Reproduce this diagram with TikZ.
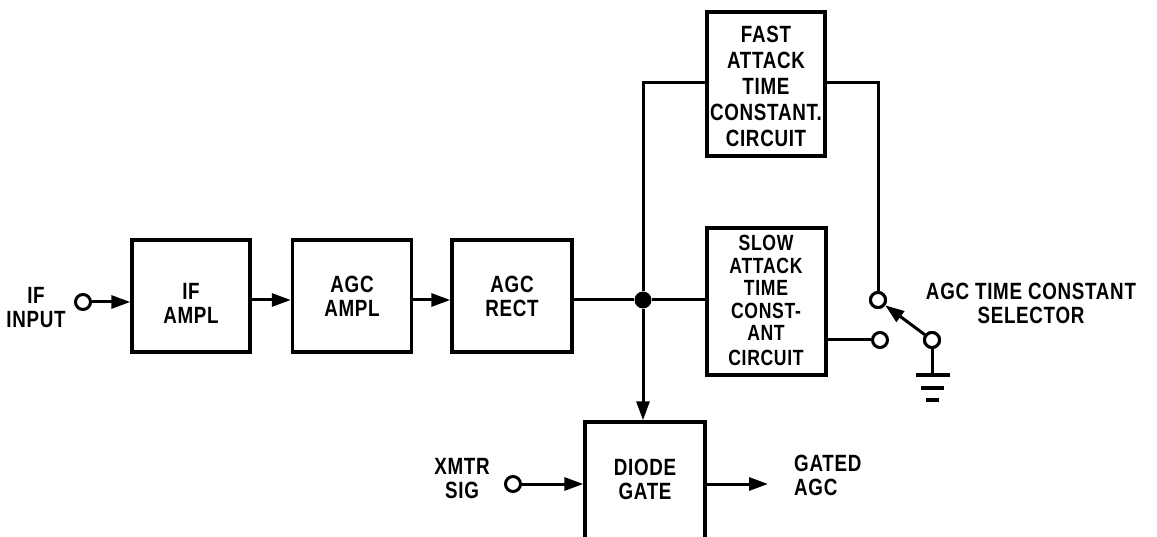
\documentclass[tikz,border=0pt]{standalone}
\usepackage{fontspec}
\newfontfamily\lab[FakeStretch=0.8,LetterSpace=3]{Liberation Sans}
\usetikzlibrary{arrows.meta}
\begin{document}
\begin{tikzpicture}[x=1pt,y=-1pt,
  blk/.style={draw,line width=3.4pt,rectangle,inner sep=0pt},
  txt/.style={align=center,inner sep=0pt,font=\lab\bfseries\fontsize{23.5}{24}\selectfont},
  wire/.style={line width=3pt},
  arr/.style={wire,-{Triangle[length=19pt,width=13pt]}},
  term/.style={circle,draw,line width=3pt,fill=white,minimum size=15pt,inner sep=0pt},
  dot/.style={circle,fill=black,minimum size=17pt,inner sep=0pt}]
\useasboundingbox (0,0) rectangle (1157,537);
% boxes
\node[blk,minimum width=118pt,minimum height=112pt] (ifa) at (191,296) {};
\node[txt] (ifat) at (191,303) {IF\\AMPL};
\node[blk,minimum width=119pt,minimum height=112pt] (agca) at (352,296) {};
\node[txt] (agcat) at (352,296) {AGC\\AMPL};
\node[blk,minimum width=120pt,minimum height=112pt] (agcr) at (512,296) {};
\node[txt] (agcrt) at (512,296) {AGC\\RECT};
\node[blk,minimum width=118pt,minimum height=144pt] (fast) at (766,84) {};
\node[txt,font=\lab\bfseries\fontsize{23.5}{26}\selectfont] (fastt) at (766,86) {FAST\\ATTACK\\TIME\\CONSTANT.\\CIRCUIT};
\node[blk,minimum width=119pt,minimum height=147pt] (slow) at (766.5,301.5) {};
\node[txt,font=\lab\bfseries\fontsize{22}{22}\selectfont] (slowt) at (766,300) {SLOW\\[1pt]ATTACK\\TIME\\[1pt]CONST-\\ANT\\[3pt]CIRCUIT};
\node[blk,minimum width=120pt,minimum height=140pt] (dg) at (645,492) {};
\node[txt] (dgt) at (645,479) {DIODE\\GATE};
% labels
\node[txt] (ifin) at (36,308) {IF\\INPUT};
\node[txt] (xm) at (462,479) {XMTR\\SIG};
\node[txt,align=left,anchor=west] (gated) at (794,475) {GATED\\AGC};
\node[txt] (sel) at (1031,303) {AGC TIME CONSTANT\\SELECTOR};
% terminals
\node[term] (tin) at (83,302) {};
\node[term] (txm) at (513,484) {};
\node[term] (sw1) at (878,300) {};
\node[term] (sw2) at (880,340) {};
\node[term] (piv) at (932,340) {};
\node[dot] (j) at (643,300) {};
\coordinate (out) at (768,484);
\coordinate (ftl) at (643,83);
\coordinate (ftr) at (878,83);
\coordinate (g) at (932,375);
% connectors
\draw[arr] (tin) -- (tin -| ifa.west);
\draw[arr] (ifa.east |- 0,300) -- (agca.west |- 0,300);
\draw[arr] (agca.east |- 0,300) -- (agcr.west |- 0,300);
\draw[wire] (agcr.east |- j) -- (j) -- (slow.west |- j);
\draw[wire] (j) -- (ftl) -- (fast.west |- ftl);
\draw[arr] (j) -- (dg.north -| j);
\draw[wire] (fast.east |- ftr) -- (ftr) -- (sw1);
\draw[wire] (slow.east |- sw2) -- (sw2);
\draw[arr] (txm) -- (txm -| dg.west);
\draw[arr] (dg.east |- out) -- (out);
\draw[arr] (piv) -- (sw1);
\node[term] at (sw1) {};
\node[term] at (piv) {};
\draw[wire] (piv) -- (g);
\draw[line width=3.4pt] (916,375) -- (950,375);
\draw[line width=3.4pt] (921,388) -- (944,388);
\draw[line width=3.4pt] (926,400) -- (939,400);
\end{tikzpicture}
\end{document}
